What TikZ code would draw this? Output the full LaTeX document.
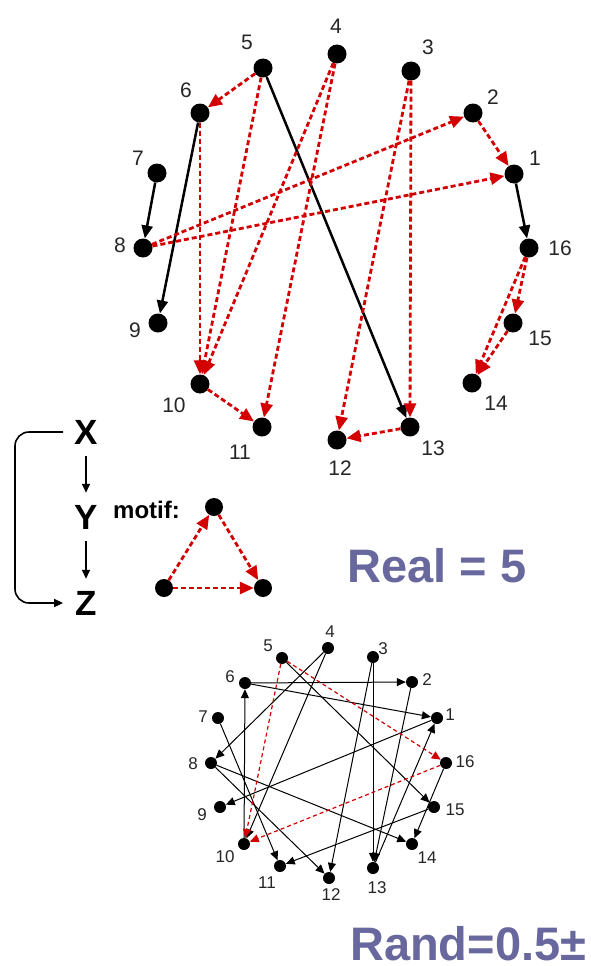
\documentclass[tikz,border=0pt]{standalone}
\usepackage{fontspec}
\setmainfont{Liberation Sans}
\usetikzlibrary{arrows.meta}
\definecolor{ered}{RGB}{210,0,0}
\definecolor{ttl}{RGB}{104,104,158}
\begin{document}
\begin{tikzpicture}[x=1pt,y=-1pt,
  tn/.style={circle,fill=black,inner sep=0pt,minimum size=19pt},
  bn/.style={circle,fill=black,inner sep=0pt,minimum size=12pt},
  tlab/.style={inner sep=0pt,font=\fontsize{21}{21}\selectfont,text=black!85},
  blab/.style={inner sep=0pt,font=\fontsize{17}{17}\selectfont,text=black!85},
  tred/.style={ered,line width=2.8pt,dash pattern=on 5pt off 3pt,-{Triangle[length=14pt,width=12pt]}},
  tblk/.style={black,line width=2.5pt,-{Triangle[length=13pt,width=11pt]}},
  bred/.style={ered,line width=1.2pt,dash pattern=on 4pt off 3pt,-{Triangle[length=9pt,width=8pt]}},
  bblk/.style={black,line width=1pt,-{Triangle[length=9pt,width=8pt]}},
  xyz/.style={inner xsep=0pt,inner ysep=12pt,font=\bfseries\fontsize{35}{35}\selectfont},
  xarr/.style={black,line width=1.6pt,-{Triangle[length=9pt,width=8pt]}},
  title/.style={inner sep=0pt,anchor=base west,text=ttl,font=\bfseries\fontsize{47}{47}\selectfont}
]
\fill[white] (0,0) rectangle (590,966);
\useasboundingbox (0,0) rectangle (590,966);

% ---------- top (real) network ----------
\foreach \n/\x/\y in {1/514/174, 2/473/113, 3/411/71, 4/337/54, 5/263/68, 6/200/113,
  7/157/173, 8/143/248, 9/158/323, 10/200/384, 11/262/427, 12/337/440, 13/410/427,
  14/472/383, 15/513/323, 16/529/248}
  \node[tn] (t\n) at (\x,\y) {};
\foreach \n/\x/\y in {1/535/158, 2/493/97, 3/428/47, 4/336/26, 5/247/42, 6/186/90,
  7/138/158, 8/120/245, 9/135/330, 10/174/405, 11/240/452, 12/340/468, 13/433/448,
  14/496/403, 15/540/338, 16/560/248}
  \node[tlab] (tl\n) at (\x,\y) {\n};

\draw[tblk] (t5) -- (t13);
\draw[tblk] (t1) -- (t16);
\draw[tblk] (t7) -- (t8);
\draw[tblk] (t6) -- (t9);

\draw[tred] (t5) -- (t6);
\draw[tred] (t2) -- (t1);
\draw[tred] (t8) -- (t2);
\draw[tred] (t8) -- (t1);
\draw[tred] (t6) -- (t10);
\draw[tred] (t5) -- (t10);
\draw[tred] (t4) -- (t10);
\draw[tred] (t4) -- (t11);
\draw[tred] (t3) -- (t12);
\draw[tred] (t3) -- (t13);
\draw[tred] (t13) -- (t12);
\draw[tred] (t10) -- (t11);
\draw[tred] (t16) -- (t15);
\draw[tred] (t16) -- (t14);
\draw[tred] (t15) -- (t14);

% ---------- X Y Z ----------
\node[xyz] (X) at (86,432) {X};
\node[xyz] (Y) at (86,517) {Y};
\node[xyz] (Z) at (86,603) {Z};
\draw[xarr] (X) -- (Y);
\draw[xarr] (Y) -- (Z);
\coordinate (brk) at (15,517);
\draw[xarr,rounded corners=14pt] ([xshift=-11pt]X.west) -| (brk) |- ([xshift=-12pt]Z.west);

% ---------- motif ----------
\node[inner sep=0pt,anchor=base west,font=\bfseries\fontsize{24}{24}\selectfont] (mlab) at (113,518) {motif:};
\node[tn,minimum size=18pt] (ma) at (164,588) {};
\node[tn,minimum size=18pt] (mb) at (214,507) {};
\node[tn,minimum size=18pt] (mc) at (263,588) {};
\draw[tred] (ma) -- (mb);
\draw[tred] (mb) -- (mc);
\draw[tred] (ma) -- (mc);

\node[title] (real) at (347,582) {Real = 5};

% ---------- bottom (random) network ----------
\foreach \n/\x/\y in {1/437/718, 2/412/682, 3/373/657, 4/328/648, 5/282/658, 6/245/683,
  7/218/718, 8/211/763, 9/220/807, 10/244/844, 11/280/866, 12/329/878, 13/373/868,
  14/412/844, 15/434/807, 16/446/763}
  \node[bn] (b\n) at (\x,\y) {};
\foreach \n/\x/\y in {1/450/715, 2/427/680, 3/383/649, 4/330/632, 5/268/646, 6/230/677,
  7/203/717, 8/193/764, 9/202/815, 10/225/857, 11/267/883, 12/331/895, 13/377/888,
  14/427/858, 15/455/810, 16/465/762}
  \node[blab] (bl\n) at (\x,\y) {\n};

\draw[bblk] (b6) -- (b2);
\draw[bblk] (b6) -- (b1);
\draw[bblk] (b10) -- (b6);
\draw[bblk] (b4) -- (b8);
\draw[bblk] (b4) -- (b10);
\draw[bblk] (b5) -- (b15);
\draw[bblk] (b7) -- (b11);
\draw[bblk] (b8) -- (b14);
\draw[bblk] (b8) -- (b12);
\draw[bblk] (b1) -- (b9);
\draw[bblk] (b3) -- (b13);
\draw[bblk] (b3) -- (b12);
\draw[bblk] (b2) -- (b13);
\draw[bblk] (b13) -- (b1);
\draw[bblk] (b15) -- (b11);
\draw[bblk] (b16) -- (b14);

\draw[bred] (b5) -- (b10);
\draw[bred] (b5) -- (b16);
\draw[bred] (b16) -- (b10);

\node[title] (rand) at (350,960) {Rand=0.5±};
\end{tikzpicture}
\end{document}
